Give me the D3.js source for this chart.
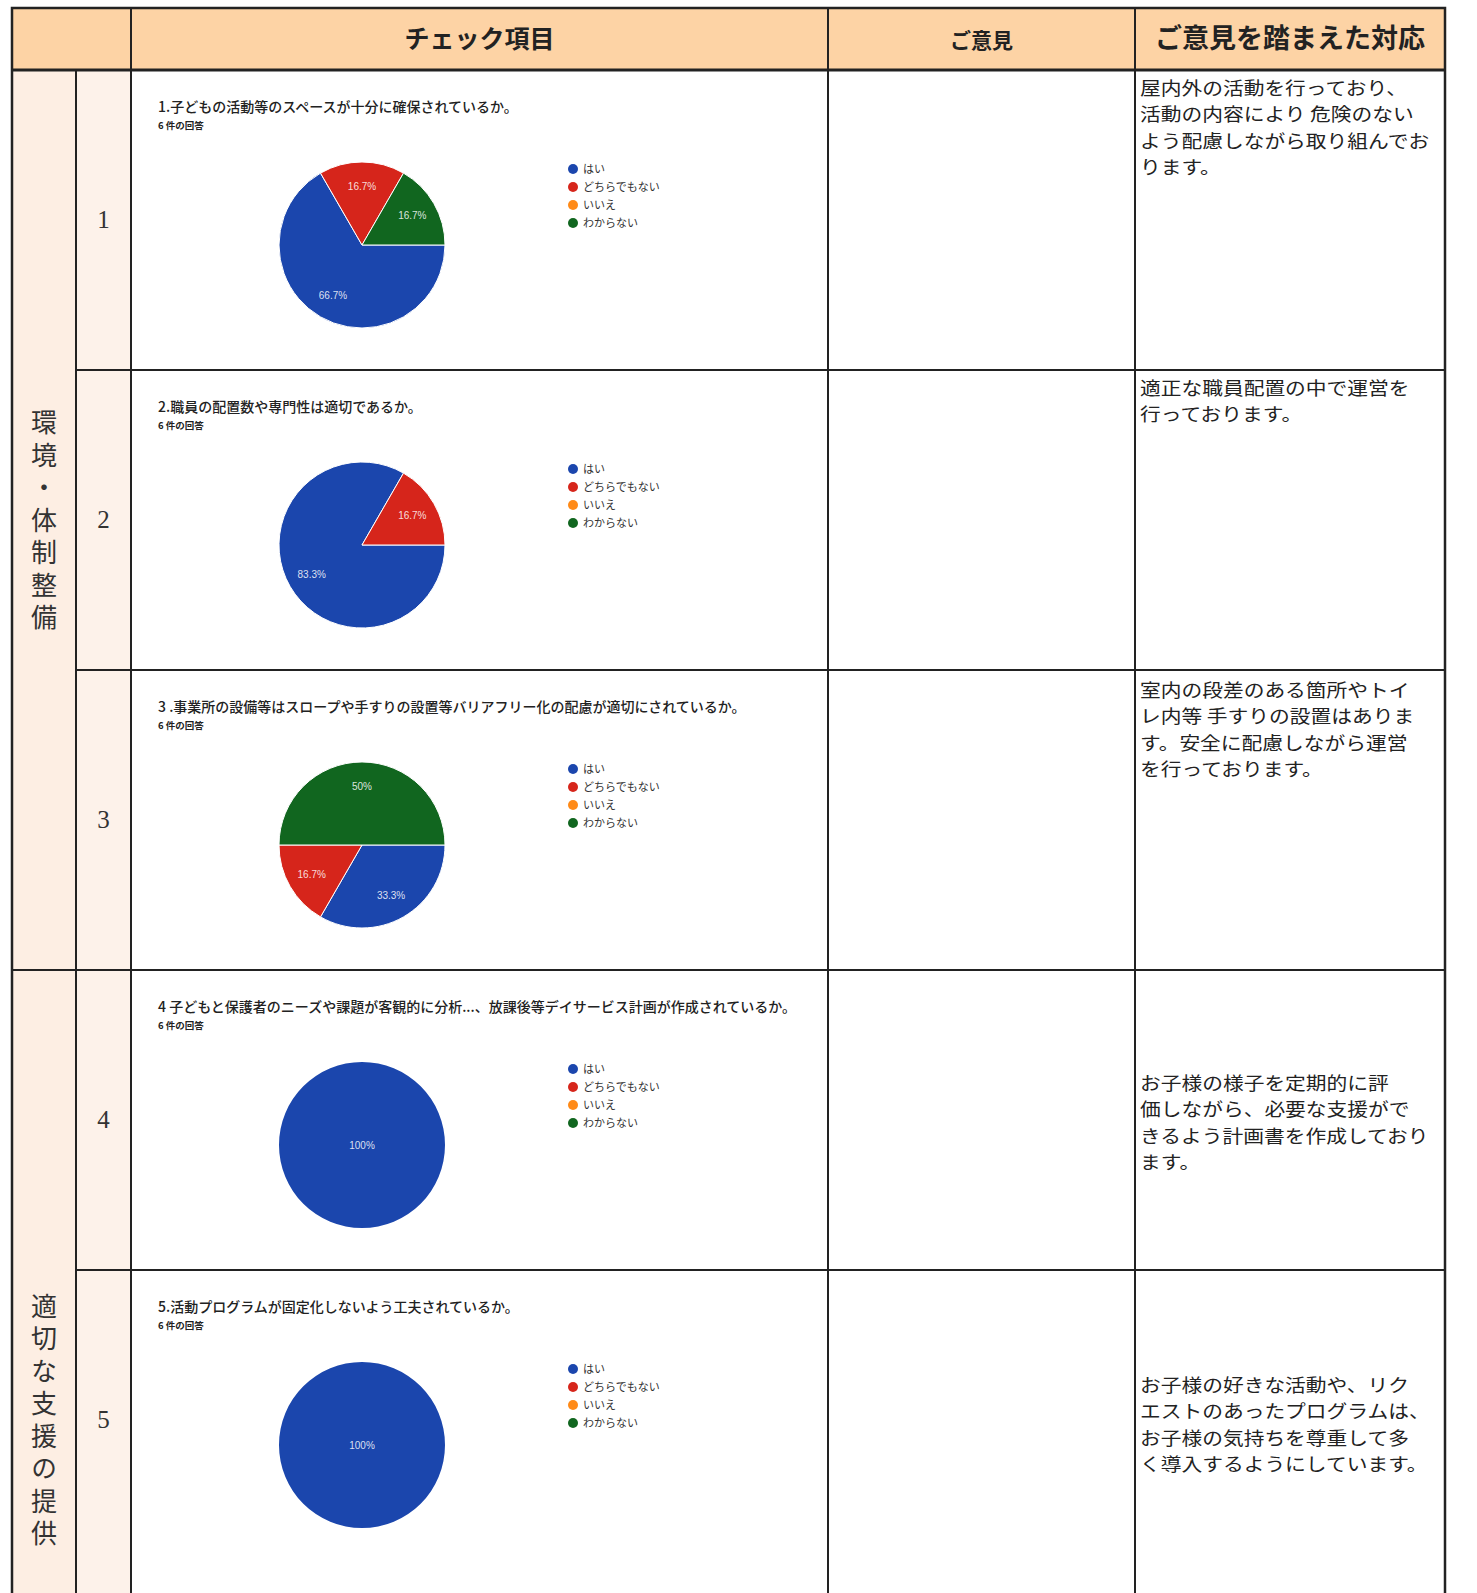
<!DOCTYPE html>
<html>
<head>
<meta charset="utf-8">
<script src="https://cdn.jsdelivr.net/npm/d3@7"></script>
<style>
  body { margin: 0; background: #fff; overflow: hidden; }
  svg { display: block; }
</style>
</head>
<body>
<svg width="1477" height="1593"></svg>
<script>
(function () {

  // header texts
  var headers = ['', 'チェック項目', 'ご意見', 'ご意見を踏まえた対応']

  // the two groups on the left, with the rows they span (second one runs past the page)
  var groups = [
    { 'name': '環境・体制整備', 'from': 0, 'to': 3 },
    { 'name': '適切な支援の提供', 'from': 3, 'to': 6 }
  ]

  var questions = [
    '1.子どもの活動等のスペースが十分に確保されているか。',
    '2.職員の配置数や専門性は適切であるか。',
    '3 .事業所の設備等はスロープや手すりの設置等バリアフリー化の配慮が適切にされているか。',
    '4 子どもと保護者のニーズや課題が客観的に分析...、放課後等デイサービス計画が作成されているか。',
    '5.活動プログラムが固定化しないよう工夫されているか。'
  ]

  var answers = ['はい', 'どちらでもない', 'いいえ', 'わからない']

  // counts out of 6 answers, in the order of "answers"
  var counts = [
    [4, 1, 0, 1],
    [5, 1, 0, 0],
    [2, 1, 0, 3],
    [6, 0, 0, 0],
    [6, 0, 0, 0]
  ]

  var responses = [
    ['屋内外の活動を行っており、', '活動の内容により 危険のない', 'よう配慮しながら取り組んでお', 'ります。'],
    ['適正な職員配置の中で運営を', '行っております。'],
    ['室内の段差のある箇所やトイ', 'レ内等 手すりの設置はありま', 'す。安全に配慮しながら運営', 'を行っております。'],
    ['お子様の様子を定期的に評', '価しながら、必要な支援がで', 'きるよう計画書を作成しており', 'ます。'],
    ['お子様の好きな活動や、リク', 'エストのあったプログラムは、', 'お子様の気持ちを尊重して多', 'く導入するようにしています。']
  ]

  var subtitle = '6 件の回答'

  var svg = d3.select('svg')
  var font = "'Noto Sans CJK JP', 'Noto Sans', sans-serif"

  // table geometry
  var colX = [12, 76, 131, 828, 1135, 1445]
  var top = 8, headH = 62, rowH = 300
  var rowY = function (i) { return top + headH + i * rowH }

  var colorScale = d3.scaleOrdinal().domain(answers)
    .range(['#1b46ad', '#d6251b', '#ff8a17', '#11661f'])

  // backgrounds
  svg.append('rect').attr('x', colX[0]).attr('y', top)
    .attr('width', colX[5] - colX[0]).attr('height', headH).attr('fill', '#fdd3a5')
  svg.append('rect').attr('x', colX[0]).attr('y', rowY(0))
    .attr('width', colX[1] - colX[0]).attr('height', 1593).attr('fill', '#fdeee3')
  svg.append('rect').attr('x', colX[1]).attr('y', rowY(0))
    .attr('width', colX[2] - colX[1]).attr('height', 1593).attr('fill', '#fdf2ea')

  // header labels
  var headerX = [null, (colX[2] + colX[3]) / 2, (colX[3] + colX[4]) / 2 , (colX[4] + colX[5]) / 2]
  var headerSize = [0, 25, 21, 27]
  svg.selectAll('text.head')
    .data(headers)
    .enter().append('text')
    .attr('class', 'head')
    .attr('x', function (d, i) { return headerX[i] })
    .attr('y', top + 40)
    .attr('text-anchor', 'middle')
    .attr('font-family', font)
    .attr('font-weight', 'bold')
    .attr('font-size', function (d, i) { return headerSize[i] })
    .attr('fill', '#222')
    .text(function (d) { return d })

  // group labels, written top to bottom
  svg.selectAll('text.group')
    .data(groups)
    .enter().append('text')
    .attr('class', 'group')
    .attr('x', (colX[0] + colX[1]) / 2)
    .attr('y', function (g) { return (rowY(g.from) + rowY(g.to)) / 2 + 3 })
    .attr('text-anchor', 'middle')
    .style('writing-mode', 'vertical-rl')
    .attr('letter-spacing', 6.5)
    .attr('font-family', font)
    .attr('font-size', 26)
    .attr('fill', '#333')
    .text(function (g) { return g.name })

  var pie = d3.pie().sort(null).value(function (d) { return d })
    .startAngle(Math.PI / 2).endAngle(Math.PI / 2 + 2 * Math.PI)
  var radius = 83
  var arc = d3.arc().innerRadius(0).outerRadius(radius)
  var labelArc = d3.arc().innerRadius(radius * 0.7).outerRadius(radius * 0.7)

  questions.forEach(function (q, i) {
    var y0 = rowY(i)
    var total = d3.sum(counts[i])

    // row number
    svg.append('text')
      .attr('x', (colX[1] + colX[2]) / 2)
      .attr('y', y0 + rowH / 2 + 8)
      .attr('text-anchor', 'middle')
      .attr('font-family', "'Liberation Serif', 'DejaVu Serif', serif")
      .attr('font-size', 25)
      .attr('fill', '#333')
      .text(i + 1)

    // question title and answer count
    svg.append('text')
      .attr('x', colX[2] + 27).attr('y', y0 + 42)
      .attr('font-family', font).attr('font-size', 14).attr('font-weight', 500)
      .attr('fill', '#222')
      .text(q)
    svg.append('text')
      .attr('x', colX[2] + 27).attr('y', y0 + 59)
      .attr('font-family', font).attr('font-size', 9.5).attr('font-weight', 'bold')
      .attr('fill', '#222')
      .text(subtitle)

    // pie
    var g = svg.append('g').attr('transform', 'translate(' + 362 + ',' + (y0 + 175) + ')')
    var slices = pie(counts[i]).filter(function (d) { return d.value > 0 })
    g.selectAll('path')
      .data(slices)
      .enter().append('path')
      .attr('d', arc)
      .attr('fill', function (d) { return colorScale(answers[d.index]) })
      .attr('stroke', slices.length > 1 ? '#fff' : 'none')
      .attr('stroke-width', 1)
    g.selectAll('text')
      .data(slices)
      .enter().append('text')
      .attr('transform', function (d) {
        var c = d.value === total ? [0, 0] : labelArc.centroid(d)
        return 'translate(' + c + ')'
      })
      .attr('dy', '0.35em')
      .attr('text-anchor', 'middle')
      .attr('font-family', "'Liberation Sans', Arial, sans-serif")
      .attr('font-size', 10)
      .attr('fill', '#fff')
      .attr('fill-opacity', 0.85)
      .text(function (d) { return +(d.value / total * 100).toFixed(1) + '%' })

    // legend
    var leg = svg.append('g').attr('transform', 'translate(' + 573 + ',' + (y0 + 99) + ')')
    leg.selectAll('circle')
      .data(answers)
      .enter().append('circle')
      .attr('cx', 0)
      .attr('cy', function (d, j) { return j * 18 })
      .attr('r', 5)
      .attr('fill', function (d) { return colorScale(d) })
    leg.selectAll('text')
      .data(answers)
      .enter().append('text')
      .attr('x', 10)
      .attr('y', function (d, j) { return j * 18 + 4 })
      .attr('font-family', font)
      .attr('font-size', 11)
      .attr('fill', '#333')
      .text(function (d) { return d })

    // response text: a bit narrower font stretched sideways so lines keep their spacing
    var firstLine = [25, 25, 27, 120, 122][i]
    svg.append('g')
      .attr('transform', 'translate(' + (colX[4] + 5) + ',' + (y0 + firstLine) + ') scale(1.14,1)')
      .selectAll('text')
      .data(responses[i])
      .enter().append('text')
      .attr('x', 0)
      .attr('y', function (d, j) { return j * 26.5 })
      .attr('font-family', font)
      .attr('font-size', 18.2)
      .attr('fill', '#222')
      .text(function (d) { return d })
  })

  // grid lines
  var lines = svg.append('g').attr('stroke', '#222').attr('fill', 'none')
  lines.append('rect').attr('x', colX[0]).attr('y', top)
    .attr('width', colX[5] - colX[0]).attr('height', 1593).attr('stroke-width', 2.5)
  lines.append('line').attr('x1', colX[0]).attr('x2', colX[5])
    .attr('y1', top + headH).attr('y2', top + headH).attr('stroke-width', 3)
  colX.slice(1, 5).forEach(function (x, k) {
    lines.append('line').attr('x1', x).attr('x2', x)
      .attr('y1', k === 0 ? top + headH : top).attr('y2', 1593).attr('stroke-width', 2)
  })
  d3.range(1, 5).forEach(function (i) {
    var isGroupEdge = groups.some(function (g) { return g.from === i })
    lines.append('line')
      .attr('x1', isGroupEdge ? colX[0] : colX[1]).attr('x2', colX[5])
      .attr('y1', rowY(i)).attr('y2', rowY(i)).attr('stroke-width', 2)
  })
})()
</script>
</body>
</html>
